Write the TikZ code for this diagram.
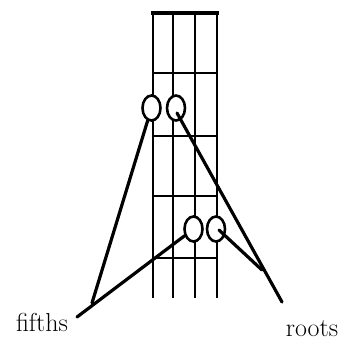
\documentclass[tikz,border=0pt]{standalone}
\usepackage{tikz}
\usetikzlibrary{shapes.geometric, calc, positioning}
\tikzset{
  fretline/.style={line width=2.6pt, draw=black},
  nutline/.style={line width=3.2pt, draw=black},
  stringline/.style={line width=2.6pt, draw=black},
  dot/.style={ellipse, draw=black, line width=2.6pt, fill=white,
              minimum width=18pt, minimum height=25pt, inner sep=0pt},
  pointer/.style={line width=3.2pt, draw=black, line cap=round},
  label/.style={font=\fontsize{26}{30}\selectfont, inner sep=0pt},
}

\begin{document}
\begin{tikzpicture}[x=1pt, y=-1pt]
  \useasboundingbox (0,0) rectangle (352,349);

  %% Strings
  \foreach \sx in {153,173,195,217}
    \draw[stringline] (\sx,13) -- (\sx,298);

  %% Nut and frets
  \draw[nutline] (151,13) -- (219,13);
  \foreach \fy in {73,136,196,258}
    \draw[fretline] (153,\fy) -- (217,\fy);

  %% Finger positions
  \node[dot] (c1) at (151.5,108) {};
  \node[dot] (c2) at (176,108) {};
  \node[dot] (c3) at (193.5,229) {};
  \node[dot] (c4) at (216,229) {};

  %% Labels
  \node[label] (fifths) at (42,322) {fifths};
  \node[label] (roots) at (312,329) {roots};

  \coordinate (ftip)  at (77,317);
  \coordinate (fmeet) at (92,303);
  \coordinate (rtip)  at (282,302);
  \coordinate (rmeet) at (262,270);

  %% Pointers
  \draw[pointer] (c3) -- (ftip);
  \draw[pointer] (c1) -- (fmeet);
  \draw[pointer] ($(c2.center)+(1,5)$) -- (rtip);
  \draw[pointer] ($(c4.center)+(3,1)$) -- (rmeet);

\end{tikzpicture}
\end{document}
